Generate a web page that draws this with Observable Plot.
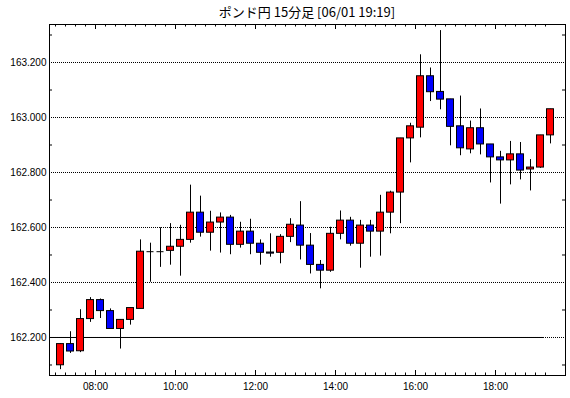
<!DOCTYPE html>
<html>
<head>
<meta charset="utf-8">
<script src="https://cdn.jsdelivr.net/npm/d3@7"></script>
<script src="https://cdn.jsdelivr.net/npm/@observablehq/plot@0.6"></script>
<style>
  html, body { margin: 0; padding: 0; background: #ffffff; }
  #wrap { position: relative; width: 570px; height: 398px; }
  #title { position: absolute; left: 49px; width: 516px; top: 2px; text-align: center;
           font-family: "Noto Sans CJK JP", sans-serif; font-size: 13px; color: #000; }
  #chart { position: absolute; left: 0; top: 0; }
</style>
</head>
<body>
<div id="wrap"><div id="chart"></div><div id="title"></div></div>
<script>
// ---- data ----
const titleText = "ポンド円 15分足 [06/01 19:19]";
const times = ["07:00","07:15","07:30","07:45","08:00","08:15","08:30","08:45",
  "09:00","09:15","09:30","09:45","10:00","10:15","10:30","10:45",
  "11:00","11:15","11:30","11:45","12:00","12:15","12:30","12:45",
  "13:00","13:15","13:30","13:45","14:00","14:15","14:30","14:45",
  "15:00","15:15","15:30","15:45","16:00","16:15","16:30","16:45",
  "17:00","17:15","17:30","17:45","18:00","18:15","18:30","18:45",
  "19:00","19:15"];
const opens = [162.099,162.176,162.150,162.267,162.336,162.296,162.231,162.264,
  162.304,162.512,162.512,162.515,162.530,162.555,162.654,162.581,
  162.618,162.636,162.537,162.585,162.541,162.509,162.508,162.566,
  162.607,162.534,162.464,162.443,162.577,162.625,162.541,162.607,
  162.585,162.654,162.727,162.924,162.963,163.150,163.093,163.066,
  162.968,162.884,162.961,162.902,162.855,162.844,162.866,162.811,
  162.818,162.935];
const highs = [162.178,162.221,162.301,162.345,162.340,162.304,162.264,162.307,
  162.555,162.543,162.599,162.614,162.608,162.754,162.714,162.659,
  162.653,162.644,162.619,162.630,162.555,162.577,162.574,162.632,
  162.694,162.578,162.480,162.601,162.660,162.637,162.626,162.626,
  162.717,162.732,162.924,162.979,163.228,163.180,163.316,163.066,
  163.078,162.987,163.031,162.902,162.877,162.913,162.909,162.847,
  162.935,163.030];
const lows = [162.083,162.142,162.145,162.255,162.269,162.231,162.158,162.245,
  162.304,162.401,162.455,162.463,162.423,162.543,162.565,162.514,
  162.507,162.501,162.525,162.501,162.463,162.492,162.468,162.545,
  162.482,162.431,162.377,162.437,162.555,162.532,162.452,162.492,
  162.496,162.577,162.614,162.835,162.926,163.058,163.028,162.897,
  162.861,162.868,162.864,162.762,162.685,162.755,162.773,162.733,
  162.815,162.904];
const closes = [162.176,162.149,162.267,162.336,162.296,162.231,162.264,162.307,
  162.512,162.512,162.512,162.530,162.555,162.654,162.581,162.618,
  162.636,162.537,162.585,162.541,162.508,162.505,162.566,162.610,
  162.534,162.464,162.443,162.577,162.625,162.541,162.607,162.585,
  162.654,162.727,162.924,162.968,163.150,163.092,163.065,162.966,
  162.888,162.961,162.902,162.855,162.844,162.866,162.807,162.818,
  162.935,163.030];
const yTickValues = [162.2, 162.4, 162.6, 162.8, 163.0, 163.2];
const yMinorValues = [162.1, 162.3, 162.5, 162.7, 162.9, 163.1, 163.3];
const xTickLabels = ["08:00","10:00","12:00","14:00","16:00","18:00"];
const xDomain = ["06:51", "19:45"];
const yDomain = [162.0618, 163.3382];
const refPrice = 162.2;
const refSpan = ["06:51", "19:12"];

// ---- build ----
document.getElementById("title").textContent = titleText;
const parseT = d3.utcParse("%H:%M");
const MIN = 60000;
const candles = times.map((t, i) => ({
  t: parseT(t), open: opens[i], high: highs[i], low: lows[i], close: closes[i]
}));
const mid = d => new Date(+d.t + 7.5 * MIN);
const bodyX1 = d => new Date(+d.t + 2.25 * MIN);
const bodyX2 = d => new Date(+d.t + 12.75 * MIN);
const bodies = candles.filter(d => d.open !== d.close);
const dojis = candles.filter(d => d.open === d.close);
const tickTimes = times.map(parseT);
const majorTimes = xTickLabels.map(parseT);

const W = 570, H = 398, mL = 49, mR = 5, mT = 24, mB = 23;
const frameH = H - mT - mB, frameW = W - mL - mR;

const plot = Plot.plot({
  width: W, height: H,
  marginLeft: mL, marginRight: mR, marginTop: mT, marginBottom: mB,
  style: { fontFamily: "'Liberation Sans', Arial, sans-serif", fontSize: "10px", color: "#000", background: "#fff" },
  x: { type: "utc", domain: xDomain.map(parseT), axis: null },
  y: { type: "linear", domain: yDomain, axis: null },
  marks: [
    Plot.ruleY(yTickValues, { stroke: "#000", strokeDasharray: "1,1" }),
    Plot.ruleY([refPrice], { x1: parseT(refSpan[0]), x2: parseT(refSpan[1]), stroke: "#000", strokeWidth: 1 }),
    // inner ticks
    Plot.tickX(tickTimes, { x: d => d, insetTop: frameH - 2.5, stroke: "#000" }),
    Plot.tickX(tickTimes, { x: d => d, insetBottom: frameH - 2.5, stroke: "#000" }),
    Plot.tickX(majorTimes, { x: d => d, insetTop: frameH - 5, stroke: "#000" }),
    Plot.tickX(majorTimes, { x: d => d, insetBottom: frameH - 5, stroke: "#000" }),
    Plot.tickY(yMinorValues, { y: d => d, insetRight: frameW - 3, stroke: "#000" }),
    Plot.tickY(yMinorValues, { y: d => d, insetLeft: frameW - 3, stroke: "#000" }),
    // candles
    Plot.ruleX(candles, { x: mid, y1: "low", y2: "high", stroke: "#000", strokeWidth: 1 }),
    Plot.rect(bodies, {
      x1: bodyX1, x2: bodyX2,
      y1: "open", y2: "close", inset: 0,
      fill: d => d.close > d.open ? "#ff0000" : "#0000ff",
      stroke: "#000", strokeWidth: 1
    }),
    Plot.ruleY(dojis, { x1: bodyX1, x2: bodyX2, y: "close", stroke: "#000", strokeWidth: 1 }),
    Plot.frame({ stroke: "#000" }),
    Plot.axisY(yTickValues, { anchor: "left", tickSize: 0, tickPadding: 3, tickFormat: d3.format(".3f"), fontSize: 10 }),
    Plot.axisX(majorTimes, { anchor: "bottom", tickSize: 0, tickPadding: 7, tickFormat: d3.utcFormat("%H:%M"), fontSize: 10 })
  ]
});
document.getElementById("chart").appendChild(plot);
</script>
</body>
</html>
